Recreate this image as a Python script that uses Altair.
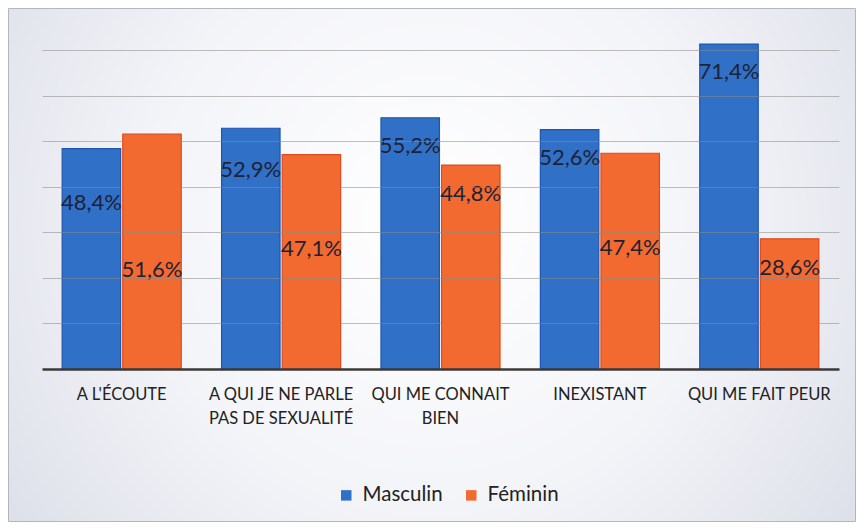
import altair as alt
import pandas as pd

categories = ["A L'ÉCOUTE", "A QUI JE NE PARLE|PAS DE SEXUALITÉ", "QUI ME CONNAIT|BIEN",
              "INEXISTANT", "QUI ME FAIT PEUR"]
series = ["Masculin", "Féminin"]
masculin = [48.4, 52.9, 55.2, 52.6, 71.4]
feminin = [51.6, 47.1, 44.8, 47.4, 28.6]
# where each value label sits, in the same % units as the axis
label_pos_m = [36.5, 43.7, 49.0, 46.4, 65.3]
label_pos_f = [21.8, 26.4, 38.5, 26.6, 22.2]

rows = []
for i, c in enumerate(categories):
    for s, vals, lp in ((series[0], masculin, label_pos_m), (series[1], feminin, label_pos_f)):
        v = vals[i]
        rows.append({"cat": c, "sexe": s, "value": v,
                     "label": f"{v:.1f}%".replace(".", ","), "label_y": lp[i]})
df = pd.DataFrame(rows)

W, H = 797, 355
PL, PT, PR, PB = 34, 6, 17, 153

bg = alt.Chart(pd.DataFrame({"a": [0]})).mark_rect(
    fill=alt.Gradient(gradient="radial",
                      stops=[alt.GradientStop(color="#ffffff", offset=0),
                             alt.GradientStop(color="#f3f4f8", offset=0.45),
                             alt.GradientStop(color="#d3d6e2", offset=1)],
                      x1=0.5, y1=0.45, r1=0, x2=0.5, y2=0.45, r2=0.75),
    stroke="#b4b6bf", strokeWidth=1
).encode(x=alt.value(-PL + 0.5), x2=alt.value(W + PR - 0.5),
         y=alt.value(-PT + 0.5), y2=alt.value(H + PB - 0.5))

x_enc = alt.X("cat:N", sort=categories, title=None,
              scale=alt.Scale(paddingInner=0.253, paddingOuter=0.1265),
              axis=alt.Axis(labelAngle=0, ticks=False, domainColor="#3a3a3a", domainWidth=2.5,
                            labelFont="Lato", labelFontSize=16.5, labelColor="#222222",
                            labelPadding=17, labelLineHeight=24,
                            labelExpr="split(datum.label, '|')", zindex=2))
xo_enc = alt.XOffset("sexe:N", sort=series, scale=alt.Scale(paddingInner=0.035))
y_scale = alt.Scale(domain=[0, 78], nice=False)

bars = alt.Chart(df).mark_bar(strokeWidth=1.2).encode(
    x=x_enc,
    xOffset=xo_enc,
    y=alt.Y("value:Q", scale=y_scale, title=None,
            axis=alt.Axis(values=[10, 20, 30, 40, 50, 60, 70], labels=False, ticks=False,
                          domain=False, grid=True, gridColor="#8a8a8a", gridOpacity=0.55,
                          gridWidth=1, zindex=1)),
    color=alt.Color("sexe:N", sort=series,
                    scale=alt.Scale(domain=series, range=["#3070c6", "#f26a30"]),
                    legend=alt.Legend(title=None, orient="none", legendX=294, legendY=471,
                                      direction="horizontal", symbolType="square",
                                      symbolSize=110, symbolStrokeWidth=0,
                                      labelFont="Lato", labelFontSize=20.5, labelColor="#222222",
                                      columnPadding=18, labelOffset=6)),
    stroke=alt.Stroke("sexe:N", sort=series,
                      scale=alt.Scale(domain=series, range=["#1d56b0", "#e04a1c"]),
                      legend=None),
)

texts = alt.Chart(df).mark_text(font="Lato", fontSize=22, color="#1e2236").encode(
    x=alt.X("cat:N", sort=categories),
    xOffset=alt.XOffset("sexe:N", sort=series),
    y=alt.Y("label_y:Q", scale=y_scale),
    text="label:N",
)

chart = alt.layer(bg, bars, texts).properties(
    width=W, height=H,
    autosize=alt.AutoSizeParams(type="none"),
    padding={"left": PL, "top": PT, "right": PR, "bottom": PB},
).configure_view(stroke=None).configure(background="white")

chart.save("out.html", embed_options={"renderer": "svg", "actions": False})
